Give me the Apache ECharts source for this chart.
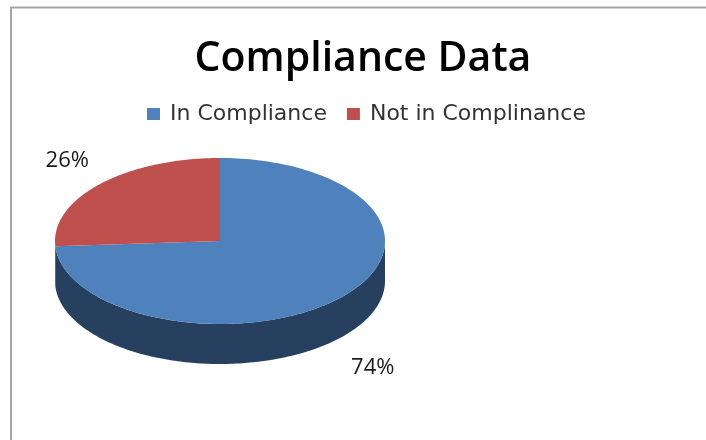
<!DOCTYPE html>
<html>
<head>
<meta charset="utf-8">
<script src="https://cdn.jsdelivr.net/npm/echarts@6/dist/echarts.min.js"></script>
<style>html,body{margin:0;padding:0;background:#fff}#c{width:706px;height:440px}</style>
</head>
<body>
<div id="c"></div>
<script>
const titleText = 'Compliance Data';
const categories = ['In Compliance', 'Not in Complinance'];
const values = [74, 26];
const topColors = ['#4f81bd', '#c0504d'];
const sideColors = ['#27405f', '#6e2e2c'];

const total = values.reduce((a, b) => a + b, 0);
const CX = 220, CY = 241, RX = 165, RY = 83, DEPTH = 40;
const pt = (t, dy) => [CX + RX * Math.sin(t), CY - RY * Math.cos(t) + (dy || 0)];

function makeRender(index) {
  const before = values.slice(0, index).reduce((a, b) => a + b, 0);
  return function (params, api) {
    const v = api.value(0);
    const a0 = before / total * Math.PI * 2;
    const a1 = (before + v) / total * Math.PI * 2;
    const steps = 180;
    const top = [[CX, CY]];
    for (let i = 0; i <= steps; i++) top.push(pt(a0 + (a1 - a0) * i / steps));
    const children = [];
    const s0 = Math.max(a0, Math.PI / 2), s1 = Math.min(a1, Math.PI * 1.5);
    if (s1 > s0) {
      const wall = [];
      for (let i = 0; i <= steps; i++) wall.push(pt(s0 + (s1 - s0) * i / steps));
      for (let i = steps; i >= 0; i--) wall.push(pt(s0 + (s1 - s0) * i / steps, DEPTH));
      children.push({ type: 'polygon', z2: 1, shape: { points: wall },
        style: { fill: sideColors[index] } });
    }
    children.push({ type: 'polygon', z2: 2, shape: { points: top },
      style: { fill: topColors[index] } });
    const mid = (a0 + a1) / 2;
    const cos = Math.cos(mid);
    children.push({ type: 'text', z2: 3, style: {
      text: v + '%',
      x: CX + RX * 1.27 * Math.sin(mid),
      y: CY - RY * 1.42 * cos + (cos < 0 ? DEPTH + 6 : 0),
      align: 'center', verticalAlign: 'middle',
      font: '22px "Open Sans", sans-serif', fill: '#1a1a1a' } });
    return { type: 'group', children };
  };
}

const chart = echarts.init(document.getElementById('c'), null, { renderer: 'canvas' });
chart.setOption({
  animation: false,
  backgroundColor: '#ffffff',
  title: {
    text: titleText, left: 358, top: 34, textAlign: 'center',
    textStyle: { fontFamily: '"Open Sans"', fontWeight: 600, fontSize: 41, color: '#000' }
  },
  legend: {
    data: categories, left: 147, top: 103, padding: 0, itemWidth: 13, itemHeight: 12, itemGap: 20,
    icon: 'rect',
    textStyle: { fontFamily: '"DejaVu Sans"', fontSize: 22, color: '#333', padding: [0, 0, 0, 5] }
  },
  graphic: [{ type: 'polyline', silent: true,
    shape: { points: [[11, 440], [11, 7.5], [706, 7.5]] },
    style: { stroke: '#a6a6a6', lineWidth: 2, fill: null } }],
  series: categories.map((name, i) => ({
    type: 'custom', name, coordinateSystem: 'none',
    itemStyle: { color: topColors[i] },
    renderItem: makeRender(i),
    data: [[values[i]]]
  }))
});
</script>
</body>
</html>
